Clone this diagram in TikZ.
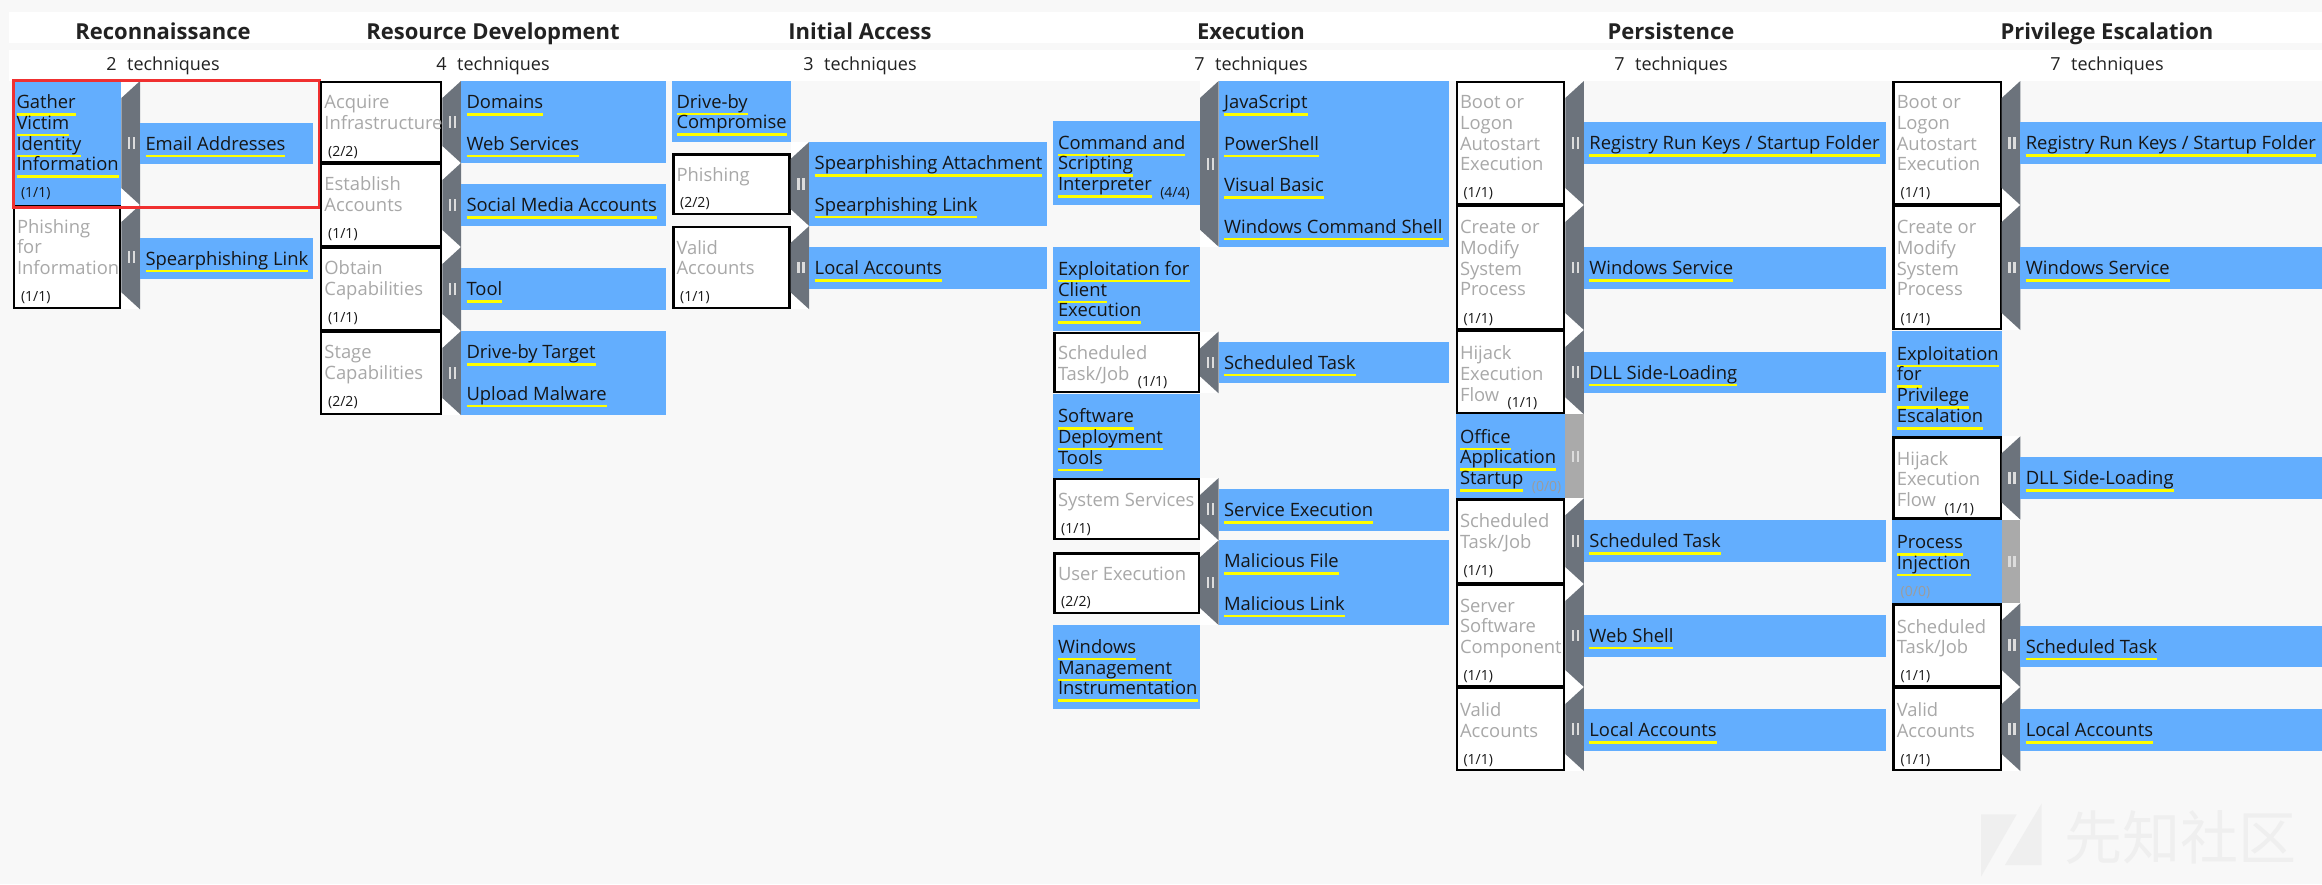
\documentclass[tikz,border=0pt]{standalone}
\usepackage{fontspec}
\setmainfont{Open Sans}
\newfontfamily\cjkfont{Noto Sans CJK SC}
\definecolor{bgc}{HTML}{F8F8F8}
\definecolor{navblue}{HTML}{63AEFE}
\definecolor{sidegrey}{HTML}{6C737C}
\definecolor{sidelight}{HTML}{AAAAAA}
\definecolor{iicol}{HTML}{DCDCDC}
\definecolor{techgrey}{HTML}{A8A8A8}
\definecolor{textdark}{HTML}{161616}
\definecolor{titlec}{HTML}{222222}
\definecolor{cntgrey}{HTML}{9C9C9C}
\definecolor{ulyellow}{HTML}{FFFF00}
\definecolor{redc}{HTML}{F03030}
\definecolor{wmark}{HTML}{EFEFEF}
\newcommand\tecfont{\fontsize{18.4}{20.8}\selectfont}
\newcommand\cntfont{\fontsize{14}{14}\selectfont}
\newcommand\ttlfont{\fontsize{22}{24}\selectfont\bfseries}
\newcommand\hdfont{\fontsize{18}{20}\selectfont}
\newsavebox\ulbox
\newcommand\yl[1]{\sbox\ulbox{#1}\rlap{\color{ulyellow}\rule[-7.1pt]{\wd\ulbox}{2.6pt}}\usebox\ulbox}
\newcommand\mlines[1]{\vtop{\baselineskip=20.8pt\lineskiplimit=-100pt\lineskip=0pt #1}}
\newcommand\rw[1]{\hbox{#1}}
\newcommand\icnt[1]{\hspace{8.5pt}\raisebox{-6.5pt}{\cntfont\color{textdark}#1}}
\newcommand\gicnt[1]{\hspace{8.5pt}\raisebox{-6.5pt}{\cntfont\color{cntgrey}#1}}
\newcommand\wbox[4]{\draw[whitecell] ({#1+1.1},{#2+1.1}) rectangle ({#3-1.1},{#4-1.1});}
\newcommand\bbox[4]{\fill[navblue] (#1,#2) rectangle (#3,#4);}
\newcommand\iimark[3]{\fill[#3] ({#1-3.7},{#2-5.8}) rectangle ({#1-1.3},{#2+5.8}); \fill[#3] ({#1+1.3},{#2-5.8}) rectangle ({#1+3.7},{#2+5.8});}
\newcommand\sbar[3]{\fill[white] (#1,#2) rectangle ({#1+18.6},#3);
 \fill[sidegrey] ({#1+18.6},#2) -- ({#1+18.6},#3) -- (#1,{#3-17}) -- (#1,{#2+17}) -- cycle;
 \iimark{#1+10.3}{(#2+#3)/2}{iicol}}
\newcommand\lbar[3]{\fill[sidelight] (#1,#2) rectangle ({#1+18.6},#3);
 \iimark{#1+10.3}{(#2+#3)/2}{iicol}}
\tikzset{
 whitecell/.style={fill=white, draw=black, line width=2.2pt},
 nm/.style={anchor=base west, inner sep=0pt, outer sep=0pt, font=\tecfont},
 tname/.style={nm, text=textdark},
 gname/.style={nm, text=techgrey},
 cnt/.style={anchor=base west, inner sep=0pt, font=\cntfont, text=textdark},
 gcnt/.style={cnt, text=cntgrey},
 ttl/.style={anchor=base, inner sep=0pt, font=\ttlfont, text=titlec},
 tcount/.style={anchor=base, inner sep=0pt, font=\hdfont, text=titlec},
}
\begin{document}
\begin{tikzpicture}[x=1pt,y=-1pt]
\useasboundingbox (0,0) rectangle (2322,884);
\fill[bgc] (0,0) rectangle (2322,884);
% header bands
\fill[white] (8.5,12) rectangle (2322,43.3);
\fill[white] (8.5,50) rectangle (2322,81);
\node[ttl] (h1) at (163,39.3) {Reconnaissance};
\node[ttl] (h2) at (493,39.3) {Resource Development};
\node[ttl] (h3) at (860,39.3) {Initial Access};
\node[ttl] (h4) at (1251,39.3) {Execution};
\node[ttl] (h5) at (1671,39.3) {Persistence};
\node[ttl] (h6) at (2107,39.3) {Privilege Escalation};
\node[tcount] (n1) at (163,70) {2\hspace{10.5pt}techniques};
\node[tcount] (n2) at (493,70) {4\hspace{10.5pt}techniques};
\node[tcount] (n3) at (860,70) {3\hspace{10.5pt}techniques};
\node[tcount] (n4) at (1251,70) {7\hspace{10.5pt}techniques};
\node[tcount] (n5) at (1671,70) {7\hspace{10.5pt}techniques};
\node[tcount] (n6) at (2107,70) {7\hspace{10.5pt}techniques};

% ================= Column 1: Reconnaissance
\bbox{13}{81}{121.4}{205}
\node[tname] (a1) at (16.5,108.5) {\mlines{\rw{\yl{Gather}}\rw{\yl{Victim}}\rw{\yl{Identity}}\rw{\yl{Information}}}};
\node[cnt] (a1c) at (20.8,197.5) {(1/1)};
\sbar{121.4}{81}{205}
\bbox{140}{122.5}{313}{164}
\node[tname] (a1s1) at (145.5,150) {\yl{Email Addresses}};
\wbox{13}{205}{121.4}{309.3}
\node[gname] (a2) at (17,233) {\mlines{\rw{Phishing}\rw{for}\rw{Information}}};
\node[cnt] (a2c) at (20.8,301.2) {(1/1)};
\sbar{121.4}{205}{309.3}
\bbox{140}{237.5}{313}{279}
\node[tname] (a2s1) at (145.5,265) {\yl{Spearphishing Link}};
\draw[redc, line width=3pt] (13.8,80) rectangle (319.7,207);

% ================= Column 2: Resource Development
\wbox{320}{81}{442.4}{163}
\node[gname] (b1) at (324.4,108.8) {\mlines{\rw{Acquire}\rw{Infrastructure}}};
\node[cnt] (b1c) at (328,156.4) {(2/2)};
\sbar{442.4}{81}{163}
\bbox{461}{81}{666}{163}
\node[tname] (b1s1) at (466.5,108.5) {\yl{Domains}};
\node[tname] (b1s2) at (466.5,150) {\yl{Web Services}};
\wbox{320}{163}{442.4}{247}
\node[gname] (b2) at (324.4,190.8) {\mlines{\rw{Establish}\rw{Accounts}}};
\node[cnt] (b2c) at (328,238.4) {(1/1)};
\sbar{442.4}{163}{247}
\bbox{461}{184}{666}{226}
\node[tname] (b2s1) at (466.5,211.5) {\yl{Social Media Accounts}};
\wbox{320}{247}{442.4}{331}
\node[gname] (b3) at (324.4,274.8) {\mlines{\rw{Obtain}\rw{Capabilities}}};
\node[cnt] (b3c) at (328,322.4) {(1/1)};
\sbar{442.4}{247}{331}
\bbox{461}{268}{666}{310}
\node[tname] (b3s1) at (466.5,295.5) {\yl{Tool}};
\wbox{320}{331}{442.4}{415}
\node[gname] (b4) at (324.4,358.8) {\mlines{\rw{Stage}\rw{Capabilities}}};
\node[cnt] (b4c) at (328,406.4) {(2/2)};
\sbar{442.4}{331}{415}
\bbox{461}{331}{666}{415}
\node[tname] (b4s1) at (466.5,358.5) {\yl{Drive-by Target}};
\node[tname] (b4s2) at (466.5,400) {\yl{Upload Malware}};

% ================= Column 3: Initial Access
\bbox{672.4}{81}{790.6}{142}
\node[tname] (c1) at (676.5,108) {\mlines{\rw{\yl{Drive-by}}\rw{\yl{Compromise}}}};
\wbox{672.4}{153.3}{790.6}{215}
\node[gname] (c2) at (676.5,181) {Phishing};
\node[cnt] (c2c) at (680,207.8) {(2/2)};
\sbar{790.6}{142}{226}
\bbox{809.2}{142}{1047}{226}
\node[tname] (c2s1) at (814.7,169.5) {\yl{Spearphishing Attachment}};
\node[tname] (c2s2) at (814.7,211) {\yl{Spearphishing Link}};
\wbox{672.4}{226}{790.6}{309.3}
\node[gname] (c3) at (676.5,254) {\mlines{\rw{Valid}\rw{Accounts}}};
\node[cnt] (c3c) at (680,301.6) {(1/1)};
\sbar{790.6}{226}{309.3}
\bbox{809.2}{247}{1047}{289}
\node[tname] (c3s1) at (814.7,274.5) {\yl{Local Accounts}};

% ================= Column 4: Execution
\bbox{1053.3}{121}{1200}{205}
\node[tname] (d1) at (1058,149) {\mlines{\rw{\yl{Command and}}\rw{\yl{Scripting}}\rw{\yl{Interpreter}\icnt{(4/4)}}}};
\sbar{1200}{81}{246.7}
\bbox{1218.6}{81}{1449}{246.7}
\node[tname] (d1s1) at (1224.1,108.5) {\yl{JavaScript}};
\node[tname] (d1s2) at (1224.1,150) {\yl{PowerShell}};
\node[tname] (d1s3) at (1224.1,191.5) {\yl{Visual Basic}};
\node[tname] (d1s4) at (1224.1,233) {\yl{Windows Command Shell}};
\bbox{1053.3}{247.3}{1200}{331}
\node[tname] (d2) at (1058,275.3) {\mlines{\rw{\yl{Exploitation for}}\rw{\yl{Client}}\rw{\yl{Execution}}}};
\wbox{1053.3}{331.5}{1200}{393.3}
\node[gname] (d3) at (1058,359.3) {\mlines{\rw{Scheduled}\rw{Task/Job\icnt{(1/1)}}}};
\sbar{1200}{331.5}{393.3}
\bbox{1218.6}{341.7}{1449}{383.3}
\node[tname] (d3s1) at (1224.1,369.2) {\yl{Scheduled Task}};
\bbox{1053.3}{393.5}{1200}{477.7}
\node[tname] (d4) at (1058,422.5) {\mlines{\rw{\yl{Software}}\rw{\yl{Deployment}}\rw{\yl{Tools}}}};
\wbox{1053.3}{478}{1200}{540.3}
\node[gname] (d5) at (1058,506) {System Services};
\node[cnt] (d5c) at (1061,533.3) {(1/1)};
\sbar{1200}{478}{540.3}
\bbox{1218.6}{489.3}{1449}{530.7}
\node[tname] (d5s1) at (1224.1,516.8) {\yl{Service Execution}};
\wbox{1053.3}{552.3}{1200}{614}
\node[gname] (d6) at (1058,580) {User Execution};
\node[cnt] (d6c) at (1061,606.8) {(2/2)};
\sbar{1200}{540.3}{625}
\bbox{1218.6}{540.3}{1449}{625}
\node[tname] (d6s1) at (1224.1,567.8) {\yl{Malicious File}};
\node[tname] (d6s2) at (1224.1,610) {\yl{Malicious Link}};
\bbox{1053.3}{625}{1200}{709}
\node[tname] (d7) at (1058,653.3) {\mlines{\rw{\yl{Windows}}\rw{\yl{Management}}\rw{\yl{Instrumentation}}}};

% ================= Column 5: Persistence
\wbox{1455.7}{81}{1565.3}{205}
\node[gname] (e1) at (1460,108.5) {\mlines{\rw{Boot or}\rw{Logon}\rw{Autostart}\rw{Execution}}};
\node[cnt] (e1c) at (1463.3,197.5) {(1/1)};
\sbar{1565.3}{81}{205}
\bbox{1583.9}{122.2}{1886}{163.8}
\node[tname] (e1s1) at (1589.4,149.7) {\yl{Registry Run Keys / Startup Folder}};
\wbox{1455.7}{205}{1565.3}{330}
\node[gname] (e2) at (1460,233.5) {\mlines{\rw{Create or}\rw{Modify}\rw{System}\rw{Process}}};
\node[cnt] (e2c) at (1463.3,323.5) {(1/1)};
\sbar{1565.3}{205}{330}
\bbox{1583.9}{247}{1886}{288.5}
\node[tname] (e2s1) at (1589.4,274.5) {\yl{Windows Service}};
\wbox{1455.7}{330}{1565.3}{414.3}
\node[gname] (e3) at (1460,359.5) {\mlines{\rw{Hijack}\rw{Execution}\rw{Flow\icnt{(1/1)}}}};
\sbar{1565.3}{330}{414.3}
\bbox{1583.9}{351.5}{1886}{393.2}
\node[tname] (e3s1) at (1589.4,379) {\yl{DLL Side-Loading}};
\bbox{1455.7}{414.3}{1565.3}{498.3}
\node[tname] (e4) at (1460,443) {\mlines{\rw{\yl{Office}}\rw{\yl{Application}}\rw{\yl{Startup}\gicnt{(0/0)}}}};
\lbar{1565.3}{414.3}{498.3}
\wbox{1455.7}{498.3}{1565.3}{584}
\node[gname] (e5) at (1460,527.8) {\mlines{\rw{Scheduled}\rw{Task/Job}}};
\node[cnt] (e5c) at (1463.3,575.5) {(1/1)};
\sbar{1565.3}{498.3}{584}
\bbox{1583.9}{520.3}{1886}{562}
\node[tname] (e5s1) at (1589.4,547.8) {\yl{Scheduled Task}};
\wbox{1455.7}{584}{1565.3}{687}
\node[gname] (e6) at (1460,612) {\mlines{\rw{Server}\rw{Software}\rw{Component}}};
\node[cnt] (e6c) at (1463.3,680.4) {(1/1)};
\sbar{1565.3}{584}{687}
\bbox{1583.9}{614.8}{1886}{656.5}
\node[tname] (e6s1) at (1589.4,642.3) {\yl{Web Shell}};
\wbox{1455.7}{687}{1565.3}{771}
\node[gname] (e7) at (1460,716.5) {\mlines{\rw{Valid}\rw{Accounts}}};
\node[cnt] (e7c) at (1463.3,764) {(1/1)};
\sbar{1565.3}{687}{771}
\bbox{1583.9}{709.3}{1886}{750.7}
\node[tname] (e7s1) at (1589.4,736.8) {\yl{Local Accounts}};

% ================= Column 6: Privilege Escalation
\wbox{1892.3}{81}{2001.7}{205}
\node[gname] (f1) at (1896.8,108.5) {\mlines{\rw{Boot or}\rw{Logon}\rw{Autostart}\rw{Execution}}};
\node[cnt] (f1c) at (1900.5,197.5) {(1/1)};
\sbar{2001.7}{81}{205}
\bbox{2020.3}{122.2}{2322}{163.8}
\node[tname] (f1s1) at (2025.8,149.7) {\yl{Registry Run Keys / Startup Folder}};
\wbox{1892.3}{205}{2001.7}{330}
\node[gname] (f2) at (1896.8,233.5) {\mlines{\rw{Create or}\rw{Modify}\rw{System}\rw{Process}}};
\node[cnt] (f2c) at (1900.5,323.5) {(1/1)};
\sbar{2001.7}{205}{330}
\bbox{2020.3}{247}{2322}{288.5}
\node[tname] (f2s1) at (2025.8,274.5) {\yl{Windows Service}};
\bbox{1892.3}{330.5}{2001.7}{436.3}
\node[tname] (f3) at (1896.8,360) {\mlines{\rw{\yl{Exploitation}}\rw{\yl{for}}\rw{\yl{Privilege}}\rw{\yl{Escalation}}}};
\wbox{1892.3}{436.3}{2001.7}{519.5}
\node[gname] (f4) at (1896.8,465) {\mlines{\rw{Hijack}\rw{Execution}\rw{Flow\icnt{(1/1)}}}};
\sbar{2001.7}{436.3}{519.5}
\bbox{2020.3}{457.3}{2322}{498.7}
\node[tname] (f4s1) at (2025.8,484.8) {\yl{DLL Side-Loading}};
\bbox{1892.3}{519.5}{2001.7}{603.3}
\node[tname] (f5) at (1896.8,548.5) {\mlines{\rw{\yl{Process}}\rw{\yl{Injection}}}};
\node[gcnt] (f5c) at (1900.5,596.3) {(0/0)};
\lbar{2001.7}{519.5}{603.3}
\wbox{1892.3}{603.3}{2001.7}{687}
\node[gname] (f6) at (1896.8,633) {\mlines{\rw{Scheduled}\rw{Task/Job}}};
\node[cnt] (f6c) at (1900.5,680.5) {(1/1)};
\sbar{2001.7}{603.3}{687}
\bbox{2020.3}{625.5}{2322}{667}
\node[tname] (f6s1) at (2025.8,653) {\yl{Scheduled Task}};
\wbox{1892.3}{687}{2001.7}{771}
\node[gname] (f7) at (1896.8,716.5) {\mlines{\rw{Valid}\rw{Accounts}}};
\node[cnt] (f7c) at (1900.5,764) {(1/1)};
\sbar{2001.7}{687}{771}
\bbox{2020.3}{709.3}{2322}{750.7}
\node[tname] (f7s1) at (2025.8,736.8) {\yl{Local Accounts}};

% ================= watermark
\fill[wmark] (1981,814.3) -- (2016.7,814.3) -- (1981,876.7) -- cycle;
\fill[wmark] (2041.7,803.3) -- (2041.7,865) -- (2005,865) -- cycle;
\node[anchor=center, inner sep=0pt, text=wmark, font=\cjkfont\fontsize{58}{58}\selectfont] (wm) at (2180,838) {先知社区};
\end{tikzpicture}
\end{document}
